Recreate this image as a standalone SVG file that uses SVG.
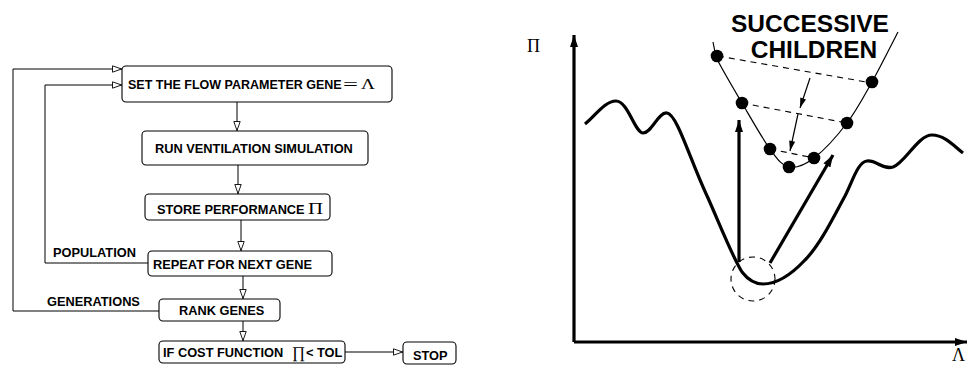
<svg xmlns="http://www.w3.org/2000/svg" width="973" height="366" viewBox="0 0 973 366">
<defs>
<marker id="open" viewBox="0 0 10 8" refX="10" refY="4" markerWidth="10" markerHeight="8" markerUnits="userSpaceOnUse" orient="auto"><path d="M0.5,0.8 L9.5,4 L0.5,7.2 Z" fill="#fff" stroke="#000" stroke-width="0.9"/></marker>
<marker id="big" viewBox="0 0 12 8" refX="12" refY="4" markerWidth="13" markerHeight="8" markerUnits="userSpaceOnUse" orient="auto"><path d="M0,0 L12,4 L0,8 Z" fill="#000"/></marker>
<marker id="small" viewBox="0 0 10 6" refX="10" refY="3" markerWidth="11" markerHeight="6" markerUnits="userSpaceOnUse" orient="auto"><path d="M0,0 L10,3 L0,6 Z" fill="#000"/></marker>
</defs>
<style>
.box{fill:#fff;stroke:#000;stroke-width:1.1}
.t{font-family:"Liberation Sans",Arial,sans-serif;font-weight:bold;font-size:12.8px;fill:#000}
.s{font-family:"Liberation Serif","Times New Roman",serif;fill:#000}
.fl{fill:none;stroke:#000;stroke-width:1;marker-end:url(#open)}
.ln{fill:none;stroke:#000;stroke-width:1}
.thick{fill:none;stroke:#000;stroke-width:3.2;stroke-linejoin:round;stroke-linecap:butt}
.thin{fill:none;stroke:#000;stroke-width:1.2}
.dash{fill:none;stroke:#000;stroke-width:1.1;stroke-dasharray:6,5}
.dot{fill:#000}
</style>

<g id="connectors">
<path class="fl" d="M13,311 L13,69 L122,69"/>
<path class="fl" d="M148,263 L45,263 L45,85 L122,85"/>
<path class="fl" d="M237,102 L237,131"/>
<path class="fl" d="M238,165 L238,194"/>
<path class="fl" d="M241,220 L241,251"/>
<path class="fl" d="M243,276 L243,299"/>
<path class="fl" d="M243,321 L243,341"/>
<path class="fl" d="M345,352 L403,352"/>
<path class="ln" d="M13,311 L159,311"/>
</g>

<g id="label-population"><text class="t" x="53" y="257">POPULATION</text></g>
<g id="label-generations"><text class="t" x="47" y="306">GENERATIONS</text></g>

<g id="set-gene">
<rect class="box" x="122" y="66" width="270" height="36" rx="4"/>
<text class="t" x="128" y="89" style="font-size:12.5px">SET THE FLOW PARAMETER GENE</text>
<text class="s" x="343" y="90" font-size="17" textLength="15" lengthAdjust="spacingAndGlyphs">=</text>
<text class="s" x="361" y="89" font-size="14" textLength="14" lengthAdjust="spacingAndGlyphs">Λ</text>
</g>

<g id="run-sim">
<rect class="box" x="142" y="131" width="226" height="34" rx="4"/>
<text class="t" x="155" y="153">RUN VENTILATION SIMULATION</text>
</g>

<g id="store-perf">
<rect class="box" x="145" y="194" width="185" height="26" rx="4"/>
<text class="t" x="157" y="214">STORE PERFORMANCE</text>
<text class="s" x="308" y="214" font-size="16" textLength="15" lengthAdjust="spacingAndGlyphs">Π</text>
</g>

<g id="repeat">
<rect class="box" x="148" y="251" width="184" height="25" rx="4"/>
<text class="t" x="153" y="269">REPEAT FOR NEXT GENE</text>
</g>

<g id="rank">
<rect class="box" x="159" y="299" width="121" height="22" rx="4"/>
<text class="t" x="179" y="315">RANK GENES</text>
</g>

<g id="cost">
<rect class="box" x="159" y="341" width="186" height="22" rx="4"/>
<text class="t" x="163" y="357">IF COST FUNCTION</text>
<text class="s" x="292" y="358" font-size="16">∏</text>
<text class="t" x="306" y="357">&lt; TOL</text>
</g>

<g id="stop">
<rect class="box" x="403" y="342" width="53" height="22" rx="4"/>
<text class="t" x="413" y="360">STOP</text>
</g>

<g id="plot">
<path class="thick" d="M574,342 L574,35" marker-end="url(#big)"/>
<path class="thick" d="M574,342 L967,342" marker-end="url(#big)"/>
<text class="s" x="527" y="52" font-size="18">Π</text>
<text class="s" x="952" y="361" font-size="18">Λ</text>
<path class="thick" d="M585,124 C595,116 605,101 616,101 C628,101 635,133 643,133 C652,133 658,112 667,113 C677,114 690,160 708,198 C720,225 733,258 742,272 C749,281 755,284 763,284 C775,284 790,276 805,260 C820,245 833,218 845,196 C853,180 858,162 867,161 C877,160 882,170 893,167 C905,163 918,135 932,135 C945,135 955,147 963,153"/>
<path class="thick" d="M739,262 L739,120" marker-end="url(#big)"/>
<path class="thick" d="M770,263 L833,155" marker-end="url(#big)"/>
<circle class="dash" cx="753" cy="279" r="22" stroke-width="1" stroke-dasharray="5,4"/>
<path class="thin" d="M713,42 L716,57 C720.8,67.2 733,87.7 742,103 C751,118.3 762.2,138.3 770,149 C777.8,159.7 781.7,165.5 789,167 C796.3,168.5 804.3,165.3 814,158 C823.7,150.7 837.3,135.7 847,123 C856.7,110.3 863.5,97.2 872,82 C880.5,66.8 893.7,40.3 898,32"/>
<path class="dash" d="M718,56 L872,83"/>
<path class="dash" d="M742,103 L847,123"/>
<path class="dash" d="M770,149 L814,158"/>
<path class="thin" d="M810,78 L800,108" marker-end="url(#small)"/>
<path class="thin" d="M798,114 L790,151" marker-end="url(#small)"/>
<circle class="dot" cx="717" cy="56" r="6.3"/>
<circle class="dot" cx="742" cy="103" r="6.3"/>
<circle class="dot" cx="770" cy="149" r="6.3"/>
<circle class="dot" cx="789" cy="167" r="6.3"/>
<circle class="dot" cx="814" cy="158" r="6.3"/>
<circle class="dot" cx="847" cy="123" r="6.3"/>
<circle class="dot" cx="872" cy="82" r="6.3"/>
<text class="t" x="810" y="32" text-anchor="middle" style="font-size:24.5px">SUCCESSIVE</text>
<text class="t" x="814" y="58" text-anchor="middle" style="font-size:24.5px">CHILDREN</text>
</g>
</svg>
